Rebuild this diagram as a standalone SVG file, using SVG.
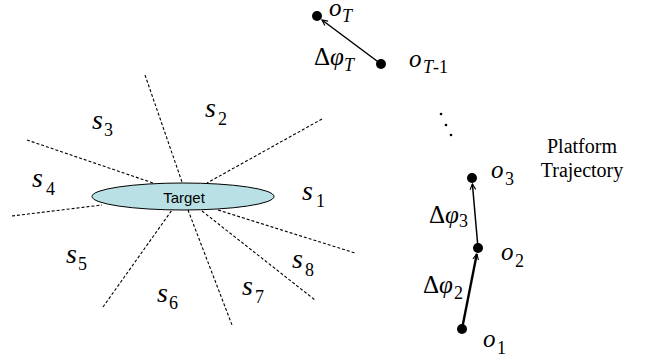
<svg xmlns="http://www.w3.org/2000/svg" width="645" height="358" viewBox="0 0 645 358">
<style>
.dash{stroke:#000;stroke-width:1.1;stroke-dasharray:3 2;fill:none}
.arr{stroke:#000;fill:none;marker-end:url(#ah)}
.lab{font-family:"Liberation Serif","Times New Roman",serif;font-style:italic;fill:#000}
.s{font-size:28px}
.o{font-size:25px}
.sub{font-size:18px;font-style:normal}
.subi{font-size:18px;font-style:italic}
.up{font-style:normal}
.dot{fill:#000}
.plain{font-family:"Liberation Serif","Times New Roman",serif;font-size:20px;fill:#000}
</style>
<defs>
<marker id="ah" viewBox="0 0 10 10" refX="9" refY="5" markerWidth="7" markerHeight="7" markerUnits="userSpaceOnUse" orient="auto">
<path d="M1,1 L9,5 L1,9" fill="none" stroke="#000" stroke-width="1.6"/>
</marker>
</defs>
<rect width="645" height="358" fill="#fff"/>
<g id="connectors">
<line class="dash" x1="145" y1="75" x2="182" y2="182"/>
<line class="dash" x1="322" y1="119" x2="207" y2="183"/>
<line class="dash" x1="27" y1="140" x2="153" y2="183"/>
<line class="dash" x1="12" y1="216" x2="102" y2="205"/>
<line class="dash" x1="103" y1="307" x2="172" y2="210"/>
<line class="dash" x1="188" y1="210" x2="232" y2="325"/>
<line class="dash" x1="202" y1="211" x2="315" y2="300"/>
<line class="dash" x1="218" y1="210" x2="355" y2="253"/>
<line class="arr" x1="381" y1="64" x2="322" y2="20" stroke-width="1.5"/>
<line class="arr" x1="478" y1="248" x2="472.4" y2="184" stroke-width="1.5"/>
<line class="arr" x1="462" y1="329" x2="476.8" y2="254" stroke-width="2.4"/>
</g>
<g id="target">
<ellipse cx="183" cy="196.5" rx="91" ry="13.5" fill="#b9e1e5" stroke="#000" stroke-width="1"/>
<text x="184" y="203" text-anchor="middle" font-family="Liberation Sans, Arial, sans-serif" font-size="15" fill="#000">Target</text>
</g>
<g id="sectors" class="lab">
<text class="s" x="302" y="200">s<tspan class="sub" x="316" y="207">1</tspan></text>
<text class="s" x="205" y="117">s<tspan class="sub" x="218" y="125">2</tspan></text>
<text class="s" x="92" y="129">s<tspan class="sub" x="104" y="136">3</tspan></text>
<text class="s" x="32" y="187">s<tspan class="sub" x="46" y="195">4</tspan></text>
<text class="s" x="66" y="263">s<tspan class="sub" x="78" y="270">5</tspan></text>
<text class="s" x="157" y="302">s<tspan class="sub" x="169" y="309">6</tspan></text>
<text class="s" x="242" y="295">s<tspan class="sub" x="255" y="303">7</tspan></text>
<text class="s" x="292" y="268">s<tspan class="sub" x="305" y="276">8</tspan></text>
</g>
<g id="oT">
<circle class="dot" cx="317" cy="16" r="5"/>
<text class="lab o" x="329" y="16">o<tspan class="subi" x="342" y="22">T</tspan></text>
</g>
<g id="oT1">
<circle class="dot" cx="381" cy="64" r="5"/>
<text class="lab o" x="409" y="67">o<tspan class="subi" x="423" y="73">T<tspan class="up">-1</tspan></tspan></text>
</g>
<g id="ellipsis">
<circle class="dot" cx="441" cy="114" r="1.3"/>
<circle class="dot" cx="446" cy="125" r="1.3"/>
<circle class="dot" cx="451" cy="135" r="1.3"/>
</g>
<g id="o3">
<circle class="dot" cx="472" cy="178" r="5"/>
<text class="lab o" x="491" y="178">o<tspan class="sub" x="505" y="185">3</tspan></text>
</g>
<g id="o2">
<circle class="dot" cx="478" cy="248" r="5"/>
<text class="lab o" x="501" y="260">o<tspan class="sub" x="515" y="267">2</tspan></text>
</g>
<g id="o1">
<circle class="dot" cx="462" cy="329" r="5"/>
<text class="lab o" x="483" y="347">o<tspan class="sub" x="497" y="354">1</tspan></text>
</g>
<g id="edge-labels" class="lab">
<text class="o" x="314" y="65"><tspan class="up">Δ</tspan>φ<tspan class="subi" x="344" y="71">T</tspan></text>
<text class="o" x="429" y="223"><tspan class="up">Δ</tspan>φ<tspan class="sub" x="459" y="227">3</tspan></text>
<text class="o" x="423" y="293"><tspan class="up">Δ</tspan>φ<tspan class="sub" x="454" y="299">2</tspan></text>
</g>
<g id="platform-label">
<text class="plain" x="582" y="153" text-anchor="middle">Platform</text>
<text class="plain" x="582" y="177" text-anchor="middle">Trajectory</text>
</g>
</svg>
